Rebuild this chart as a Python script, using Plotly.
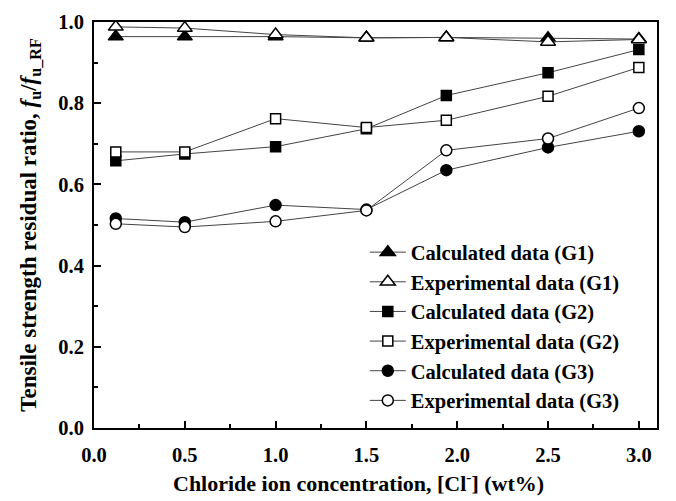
import plotly.graph_objects as go

conc = [0.12, 0.5, 1.0, 1.5, 1.94, 2.5, 3.0]
calc_g1 = [0.964, 0.964, 0.964, 0.961, 0.962, 0.960, 0.958]
exp_g1 = [0.988, 0.985, 0.969, 0.961, 0.962, 0.951, 0.957]
calc_g2 = [0.658, 0.675, 0.693, 0.737, 0.819, 0.875, 0.932]
exp_g2 = [0.680, 0.680, 0.762, 0.740, 0.758, 0.817, 0.888]
calc_g3 = [0.516, 0.507, 0.549, 0.538, 0.635, 0.691, 0.731]
exp_g3 = [0.503, 0.495, 0.509, 0.536, 0.684, 0.713, 0.788]

x_title = "Chloride ion concentration, [Cl<sup>-</sup>] (wt%)"
y_title = "Tensile strength residual ratio, <i>f</i><sub>u</sub>/<i>f</i><sub>u_RF</sub>"

series = [
    ("Calculated data (G1)", calc_g1, "triangle-up", "black", 13),
    ("Experimental data (G1)", exp_g1, "triangle-up", "white", 13),
    ("Calculated data (G2)", calc_g2, "square", "black", 10),
    ("Experimental data (G2)", exp_g2, "square", "white", 10),
    ("Calculated data (G3)", calc_g3, "circle", "black", 11),
    ("Experimental data (G3)", exp_g3, "circle", "white", 11),
]

fig = go.Figure()
for name, ys, sym, fill, size in series:
    fig.add_trace(go.Scatter(
        x=conc, y=ys, name=name, mode="lines+markers",
        line=dict(color="#444444", width=1),
        marker=dict(symbol=sym, color=fill, size=size,
                    line=dict(color="black", width=1.5)),
    ))

font = "Liberation Serif"

def bold(size):
    return dict(family=font, size=size, color="black", weight="bold")

fig.update_layout(
    width=676, height=501,
    margin=dict(l=94, r=19, t=11, b=73),
    paper_bgcolor="white", plot_bgcolor="white",
    font=bold(20),
    showlegend=True,
    legend=dict(x=0.481, y=0.482, xanchor="left", yanchor="top",
                bgcolor="rgba(0,0,0,0)", font=bold(20.5),
                itemwidth=36, tracegroupgap=0, borderwidth=0),
    annotations=[dict(text=x_title, xref="paper", yref="paper",
                      x=0.469, y=-0.132, xanchor="center", yanchor="middle",
                      showarrow=False, font=bold(22))],
)
fig.update_xaxes(
    range=[0, 3.1], tickvals=[0, 0.5, 1.0, 1.5, 2.0, 2.5, 3.0],
    tickformat=".1f",
    ticks="inside", ticklen=7, tickwidth=1.5, tickcolor="black",
    minor=dict(dtick=0.25, tick0=0, ticks="inside", ticklen=4, tickwidth=1.5, tickcolor="black"),
    showline=True, linecolor="black", linewidth=2, mirror=True,
    showgrid=False, zeroline=False,
    tickfont=bold(20.5), ticklabelstandoff=7,
)
fig.update_yaxes(
    range=[0, 1.0], tickvals=[0, 0.2, 0.4, 0.6, 0.8, 1.0],
    tickformat=".1f",
    ticks="inside", ticklen=7, tickwidth=1.5, tickcolor="black",
    minor=dict(dtick=0.1, tick0=0, ticks="inside", ticklen=4, tickwidth=1.5, tickcolor="black"),
    showline=True, linecolor="black", linewidth=2, mirror=True,
    showgrid=False, zeroline=False,
    tickfont=bold(20.5), ticklabelstandoff=4,
    title=dict(text=y_title, font=bold(23), standoff=15),
)
fig.write_html("out.html")
